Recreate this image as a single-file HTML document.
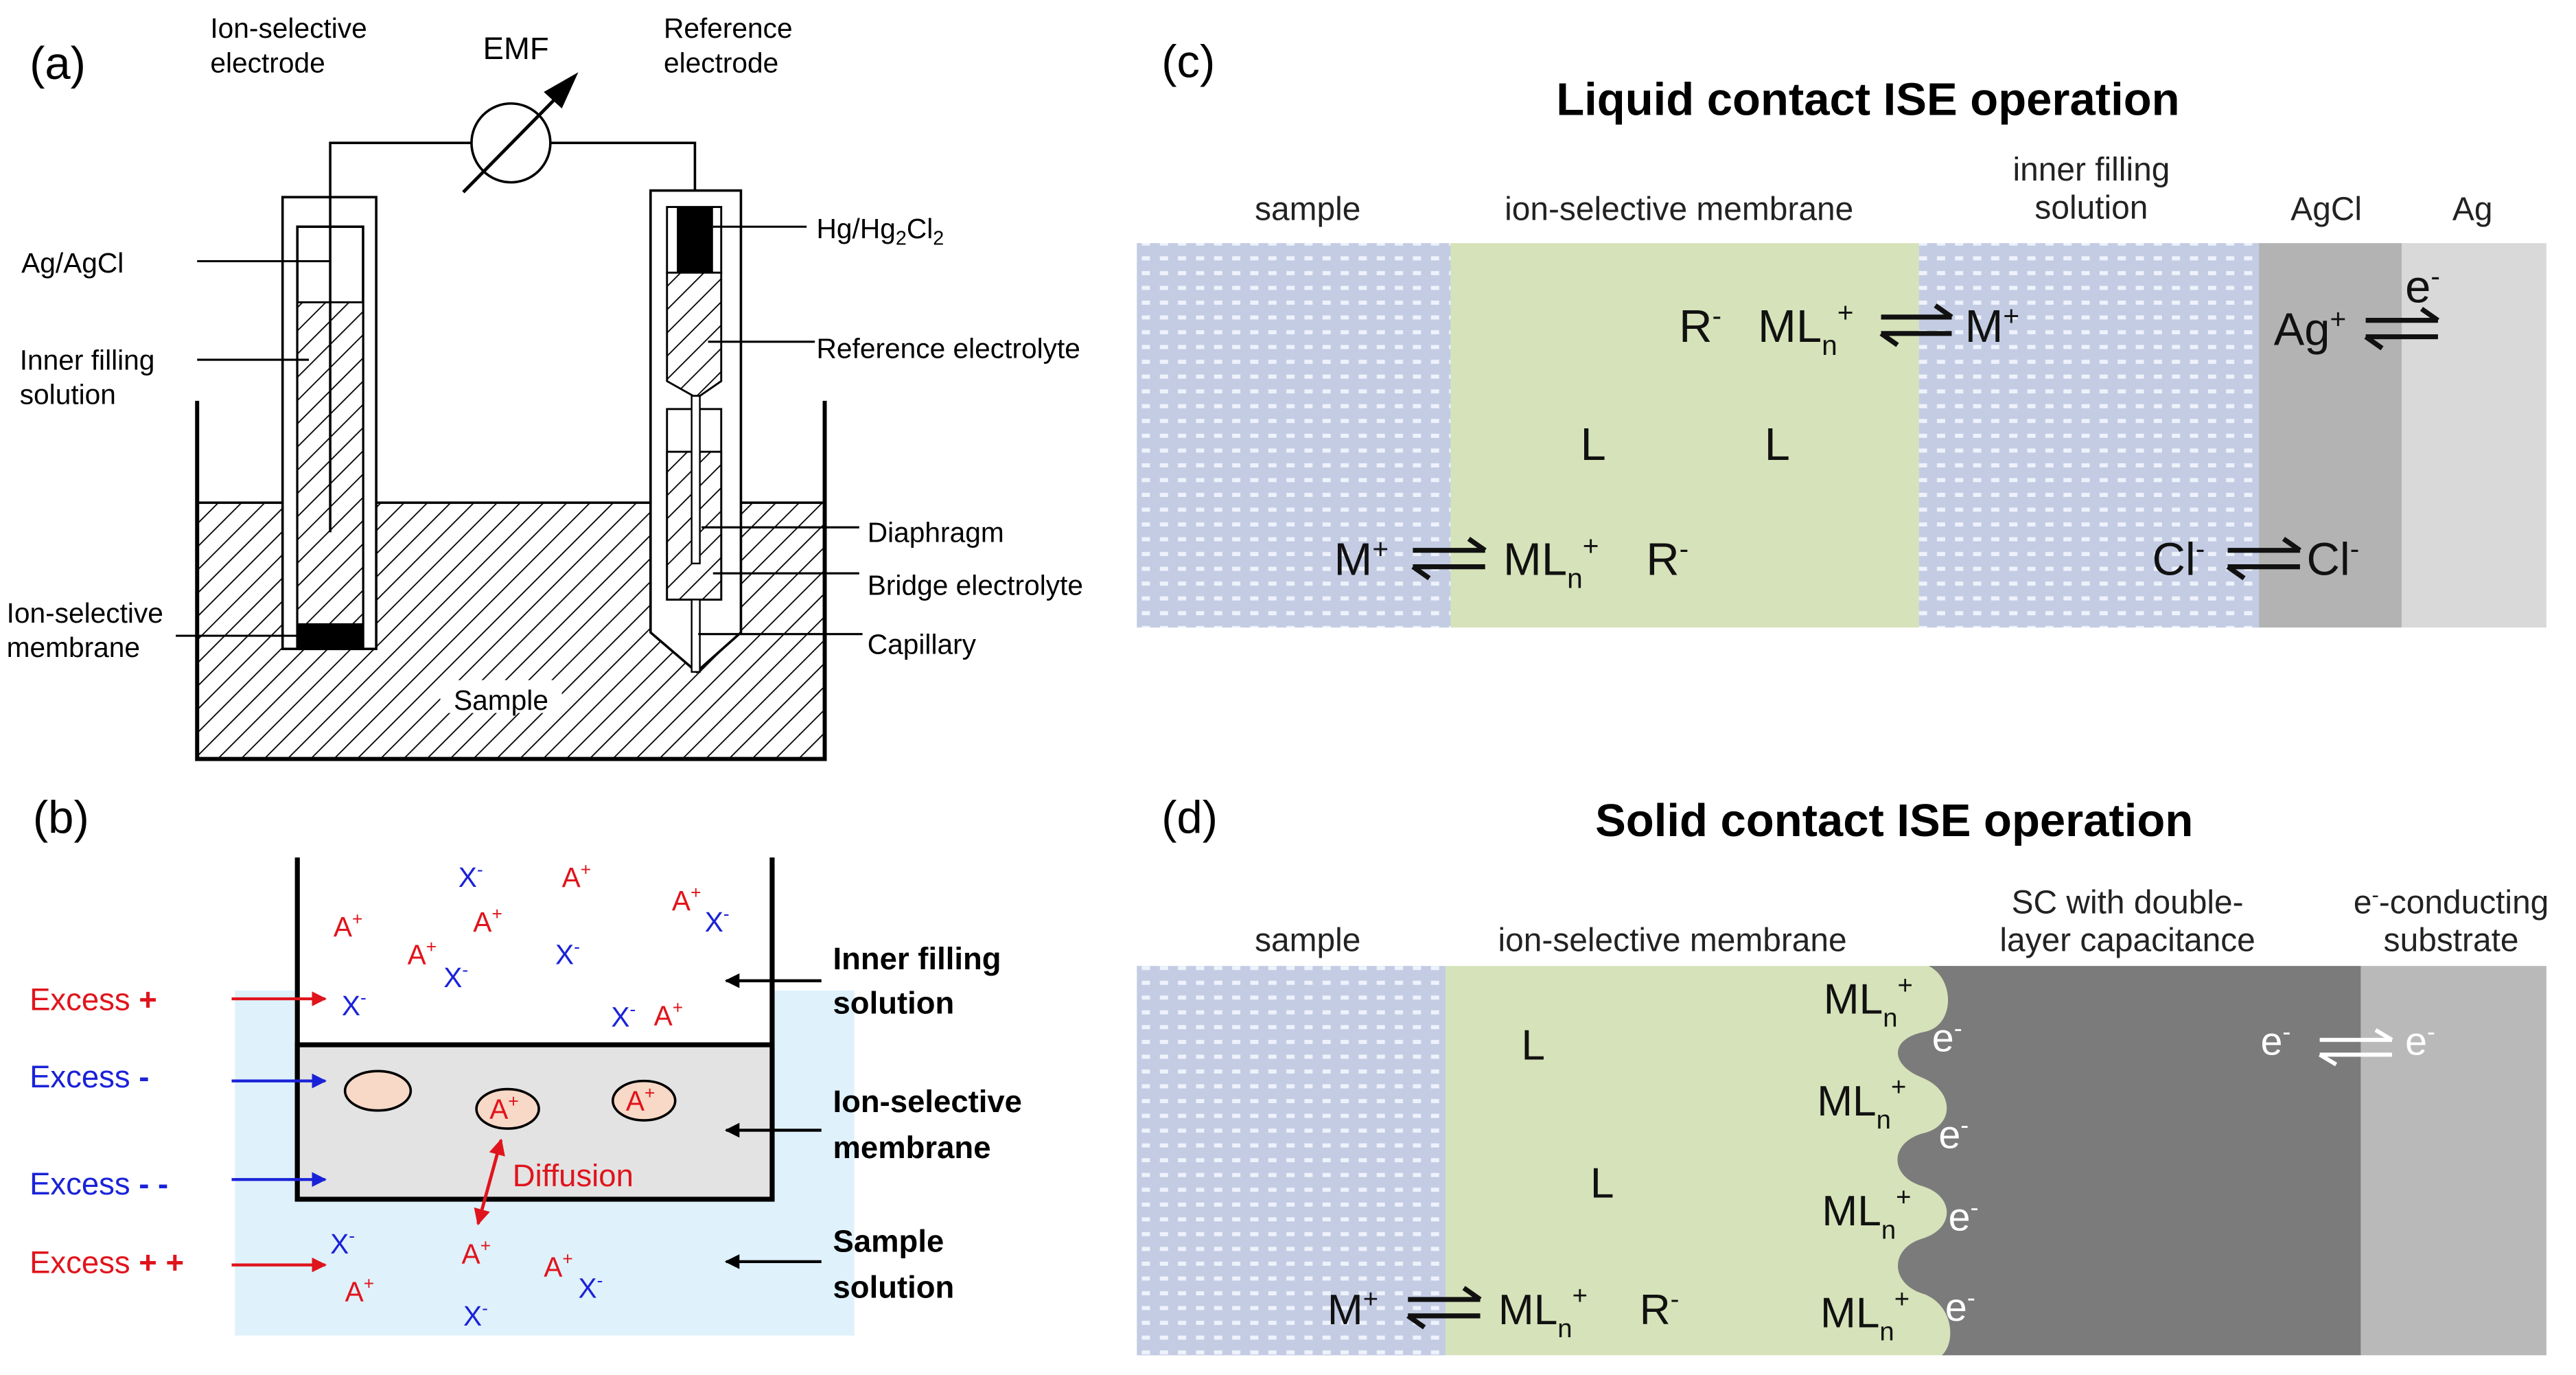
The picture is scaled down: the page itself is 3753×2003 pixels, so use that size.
<!DOCTYPE html>
<html><head><meta charset="utf-8"><style>html,body{margin:0;padding:0;background:#fff}svg{display:block}</style></head>
<body>
<svg xmlns="http://www.w3.org/2000/svg" width="3753" height="2003" viewBox="0 0 1568 837" preserveAspectRatio="none" font-family="Liberation Sans, Arial, sans-serif">
<defs>
<pattern id="hat" width="10" height="10" patternUnits="userSpaceOnUse" patternTransform="rotate(45)">
<rect width="10" height="10" fill="#fff"/><line x1="0" y1="0" x2="0" y2="10" stroke="#000" stroke-width="1.5"/></pattern>
<pattern id="dots" width="11" height="9" patternUnits="userSpaceOnUse">
<rect width="11" height="9" fill="#c3cce3"/><rect x="2" y="3" width="5" height="2.5" fill="#eef2fb"/></pattern>
<marker id="ab" viewBox="0 0 10 10" refX="9" refY="5" markerWidth="5" markerHeight="5" orient="auto-start-reverse"><path d="M0,0L10,5L0,10z" fill="#000"/></marker>
<marker id="ar" viewBox="0 0 10 10" refX="9" refY="5" markerWidth="5" markerHeight="5" orient="auto-start-reverse"><path d="M0,0L10,5L0,10z" fill="#e0141c"/></marker>
<marker id="abl" viewBox="0 0 10 10" refX="9" refY="5" markerWidth="5" markerHeight="5" orient="auto-start-reverse"><path d="M0,0L10,5L0,10z" fill="#1a22d8"/></marker>
</defs>
<rect width="1568" height="837" fill="#fff"/>

<!-- ===== Panel (a) ===== -->
<text x="18" y="48" font-size="28">(a)</text>
<text x="128" y="23" font-size="17">Ion-selective</text>
<text x="128" y="44" font-size="17">electrode</text>
<text x="294" y="36" font-size="19">EMF</text>
<text x="404" y="23" font-size="17">Reference</text>
<text x="404" y="44" font-size="17">electrode</text>
<rect x="120" y="306" width="382" height="156" fill="url(#hat)" stroke="#000" stroke-width="1.5"/>
<path d="M120,244V462H502V244" fill="none" stroke="#000" stroke-width="2.5"/>
<rect x="172" y="120" width="57" height="275" fill="#fff" stroke="#000" stroke-width="1.5"/>
<rect x="181" y="138" width="40" height="257" fill="#fff" stroke="#000" stroke-width="1.5"/>
<rect x="181" y="184" width="40" height="196" fill="url(#hat)" stroke="#000" stroke-width="1.2"/>
<rect x="181" y="380" width="40" height="15" fill="#000"/>
<path d="M201,324V87H287M335,87H423V117" fill="none" stroke="#000" stroke-width="1.5"/>
<circle cx="311" cy="87" r="24" fill="#fff" stroke="#000" stroke-width="1.5"/>
<line x1="282" y1="117" x2="345" y2="53" stroke="#000" stroke-width="2"/>
<path d="M352,44L331,56L342,66z" fill="#000"/>
<path d="M396,116H451V385L424,409L396,385Z" fill="#fff" stroke="#000" stroke-width="1.5"/>
<rect x="406" y="126" width="33" height="40" fill="#fff" stroke="#000" stroke-width="1.2"/>
<rect x="412" y="126" width="22" height="40" fill="#000"/>
<path d="M406,166H439V232L426,241H422L406,232Z" fill="url(#hat)" stroke="#000" stroke-width="1.2"/>
<rect x="406" y="249" width="33" height="116" fill="#fff" stroke="#000" stroke-width="1.2"/>
<rect x="406" y="275" width="33" height="90" fill="url(#hat)" stroke="#000" stroke-width="1.2"/>
<rect x="421" y="241" width="5" height="102" fill="#fff" stroke="#000" stroke-width="1"/>
<rect x="421" y="365" width="5" height="44" fill="#fff" stroke="#000" stroke-width="1"/>
<g stroke="#000" stroke-width="1.3">
<line x1="120" y1="159" x2="201" y2="159"/>
<line x1="120" y1="219" x2="188" y2="219"/>
<line x1="107" y1="387" x2="181" y2="387"/>
<line x1="434" y1="138" x2="491" y2="138"/>
<line x1="431" y1="208" x2="496" y2="208"/>
<line x1="427" y1="321" x2="523" y2="321"/>
<line x1="434" y1="349" x2="523" y2="349"/>
<line x1="425" y1="386" x2="525" y2="386"/>
</g>
<g font-size="17">
<text x="13" y="166">Ag/AgCl</text>
<text x="12" y="225">Inner filling</text>
<text x="12" y="246">solution</text>
<text x="4" y="379">Ion-selective</text>
<text x="4" y="400">membrane</text>
<text x="497" y="145">Hg/Hg<tspan font-size="12" dy="4">2</tspan><tspan dy="-4">Cl</tspan><tspan font-size="12" dy="4">2</tspan></text>
<text x="497" y="218">Reference electrolyte</text>
<text x="528" y="330">Diaphragm</text>
<text x="528" y="362">Bridge electrolyte</text>
<text x="528" y="398">Capillary</text>
</g>
<rect x="268" y="414" width="74" height="20" fill="#fff"/>
<text x="305" y="432" font-size="17" text-anchor="middle">Sample</text>

<!-- ===== Panel (b) ===== -->
<text x="20" y="507" font-size="28">(b)</text>
<rect x="143" y="603" width="377" height="210" fill="#dff1fb"/>
<rect x="181" y="540" width="289" height="96" fill="#fff"/>
<path d="M181,522V730H470V522" fill="none" stroke="#000" stroke-width="3"/>
<rect x="181" y="636" width="289" height="94" fill="#e3e3e3" stroke="#000" stroke-width="3"/>
<ellipse cx="230" cy="664" rx="20" ry="12" fill="#f8d8c6" stroke="#000" stroke-width="1.5"/>
<ellipse cx="309" cy="675" rx="19" ry="12" fill="#f8d8c6" stroke="#000" stroke-width="1.5"/>
<ellipse cx="392" cy="670" rx="19" ry="12" fill="#f8d8c6" stroke="#000" stroke-width="1.5"/>
<g font-size="17" fill="#e0141c">
<text x="298" y="681">A<tspan font-size="11" dy="-7">+</tspan></text>
<text x="381" y="676">A<tspan font-size="11" dy="-7">+</tspan></text>
</g>
<line x1="305" y1="694" x2="291" y2="745" stroke="#e0141c" stroke-width="2" marker-start="url(#ar)" marker-end="url(#ar)"/>
<text x="312" y="722" font-size="19" fill="#e0141c">Diffusion</text>
<g font-size="17" fill="#e0141c">
<text x="342" y="540">A<tspan font-size="11" dy="-7">+</tspan></text>
<text x="203" y="570">A<tspan font-size="11" dy="-7">+</tspan></text>
<text x="288" y="567">A<tspan font-size="11" dy="-7">+</tspan></text>
<text x="248" y="587">A<tspan font-size="11" dy="-7">+</tspan></text>
<text x="409" y="554">A<tspan font-size="11" dy="-7">+</tspan></text>
<text x="398" y="624">A<tspan font-size="11" dy="-7">+</tspan></text>
<text x="281" y="769">A<tspan font-size="11" dy="-7">+</tspan></text>
<text x="331" y="777">A<tspan font-size="11" dy="-7">+</tspan></text>
<text x="210" y="792">A<tspan font-size="11" dy="-7">+</tspan></text>
</g>
<g font-size="17" fill="#1a22d8">
<text x="279" y="540">X<tspan font-size="11" dy="-7">-</tspan></text>
<text x="270" y="601">X<tspan font-size="11" dy="-7">-</tspan></text>
<text x="338" y="587">X<tspan font-size="11" dy="-7">-</tspan></text>
<text x="208" y="618">X<tspan font-size="11" dy="-7">-</tspan></text>
<text x="429" y="567">X<tspan font-size="11" dy="-7">-</tspan></text>
<text x="372" y="625">X<tspan font-size="11" dy="-7">-</tspan></text>
<text x="201" y="763">X<tspan font-size="11" dy="-7">-</tspan></text>
<text x="352" y="790">X<tspan font-size="11" dy="-7">-</tspan></text>
<text x="282" y="807">X<tspan font-size="11" dy="-7">-</tspan></text>
</g>
<g font-size="19">
<text x="18" y="615" fill="#e0141c">Excess <tspan font-weight="bold">+</tspan></text>
<text x="18" y="662" fill="#1a22d8">Excess <tspan font-weight="bold">-</tspan></text>
<text x="18" y="727" fill="#1a22d8">Excess <tspan font-weight="bold">- -</tspan></text>
<text x="18" y="775" fill="#e0141c">Excess <tspan font-weight="bold">+ +</tspan></text>
</g>
<line x1="141" y1="608" x2="198" y2="608" stroke="#e0141c" stroke-width="1.8" marker-end="url(#ar)"/>
<line x1="141" y1="658" x2="198" y2="658" stroke="#1a22d8" stroke-width="1.8" marker-end="url(#abl)"/>
<line x1="141" y1="718" x2="198" y2="718" stroke="#1a22d8" stroke-width="1.8" marker-end="url(#abl)"/>
<line x1="141" y1="770" x2="198" y2="770" stroke="#e0141c" stroke-width="1.8" marker-end="url(#ar)"/>
<g stroke="#000" stroke-width="1.8">
<line x1="500" y1="597" x2="442" y2="597" marker-end="url(#ab)"/>
<line x1="500" y1="688" x2="442" y2="688" marker-end="url(#ab)"/>
<line x1="500" y1="768" x2="442" y2="768" marker-end="url(#ab)"/>
</g>
<g font-size="19" font-weight="bold">
<text x="507" y="590">Inner filling</text>
<text x="507" y="617">solution</text>
<text x="507" y="677">Ion-selective</text>
<text x="507" y="705">membrane</text>
<text x="507" y="762">Sample</text>
<text x="507" y="790">solution</text>
</g>

<!-- ===== Panel (c) ===== -->
<text x="707" y="47" font-size="28">(c)</text>
<text x="1137" y="70" font-size="28" font-weight="bold" text-anchor="middle">Liquid contact ISE operation</text>
<g font-size="20" fill="#222" text-anchor="middle">
<text x="796" y="134">sample</text>
<text x="1022" y="134">ion-selective membrane</text>
<text x="1273" y="110">inner filling</text>
<text x="1273" y="133">solution</text>
<text x="1416" y="134">AgCl</text>
<text x="1505" y="134">Ag</text>
</g>
<rect x="692" y="148" width="191" height="234" fill="url(#dots)"/>
<rect x="883" y="148" width="285" height="234" fill="#d6e2b9"/>
<rect x="1168" y="148" width="207" height="234" fill="url(#dots)"/>
<rect x="1375" y="148" width="87" height="234" fill="#b3b3b3"/>
<rect x="1462" y="148" width="88" height="234" fill="#d9d9d9"/>
<g font-size="28" fill="#111">
<text x="1022" y="208">R<tspan font-size="17" dy="-10">-</tspan></text>
<text x="1070" y="208">ML<tspan font-size="17" dy="8">n</tspan><tspan font-size="17" dy="-20">+</tspan></text>
<text x="1196" y="208">M<tspan font-size="17" dy="-10">+</tspan></text>
<text x="1384" y="210">Ag<tspan font-size="17" dy="-10">+</tspan></text>
<text x="1464" y="184">e<tspan font-size="17" dy="-10">-</tspan></text>
<text x="962" y="280">L</text>
<text x="1074" y="280">L</text>
<text x="812" y="350">M<tspan font-size="17" dy="-10">+</tspan></text>
<text x="915" y="350">ML<tspan font-size="17" dy="8">n</tspan><tspan font-size="17" dy="-20">+</tspan></text>
<text x="1002" y="350">R<tspan font-size="17" dy="-10">-</tspan></text>
<text x="1310" y="350">Cl<tspan font-size="17" dy="-10">-</tspan></text>
<text x="1404" y="350">Cl<tspan font-size="17" dy="-10">-</tspan></text>
</g>
<g stroke="#111" stroke-width="3" fill="none">
<path d="M1145,193H1188M1178,186L1188,193M1188,203H1145M1155,210L1145,203"/>
<path d="M1440,195H1484M1474,188L1484,195M1484,205H1440M1450,212L1440,205"/>
<path d="M860,335H904M894,328L904,335M904,345H860M870,352L860,345"/>
<path d="M1356,335H1400M1390,328L1400,335M1400,345H1356M1366,352L1356,345"/>
</g>

<!-- ===== Panel (d) ===== -->
<text x="707" y="507" font-size="28">(d)</text>
<text x="1153" y="509" font-size="28" font-weight="bold" text-anchor="middle">Solid contact ISE operation</text>
<g font-size="20" fill="#222" text-anchor="middle">
<text x="796" y="579">sample</text>
<text x="1018" y="579">ion-selective membrane</text>
<text x="1295" y="556">SC with double-</text>
<text x="1295" y="579">layer capacitance</text>
<text x="1492" y="556">e<tspan font-size="13" dy="-7">-</tspan><tspan dy="7">-conducting</tspan></text>
<text x="1492" y="579">substrate</text>
</g>
<rect x="692" y="588" width="188" height="237" fill="url(#dots)"/>
<rect x="880" y="588" width="310" height="237" fill="#d6e2b9"/>
<path d="M1174,588 C1190,596 1190,624 1172,628 C1150,632 1150,648 1170,656 C1190,664 1190,686 1170,690 C1150,696 1150,716 1170,722 C1190,728 1190,748 1170,754 C1150,760 1150,782 1172,788 C1190,796 1190,818 1182,825 H1437 V588 Z" fill="#7b7b7b"/>
<rect x="1437" y="588" width="113" height="237" fill="#b9b9b9"/>
<g font-size="26" fill="#111">
<text x="1110" y="617">ML<tspan font-size="16" dy="8">n</tspan><tspan font-size="16" dy="-20">+</tspan></text>
<text x="1106" y="679">ML<tspan font-size="16" dy="8">n</tspan><tspan font-size="16" dy="-20">+</tspan></text>
<text x="1109" y="746">ML<tspan font-size="16" dy="8">n</tspan><tspan font-size="16" dy="-20">+</tspan></text>
<text x="1108" y="808">ML<tspan font-size="16" dy="8">n</tspan><tspan font-size="16" dy="-20">+</tspan></text>
<text x="926" y="645">L</text>
<text x="968" y="729">L</text>
<text x="808" y="806">M<tspan font-size="16" dy="-10">+</tspan></text>
<text x="912" y="806">ML<tspan font-size="16" dy="8">n</tspan><tspan font-size="16" dy="-20">+</tspan></text>
<text x="998" y="806">R<tspan font-size="16" dy="-10">-</tspan></text>
</g>
<g font-size="24" fill="#fff">
<text x="1176" y="640">e<tspan font-size="15" dy="-9">-</tspan></text>
<text x="1180" y="699">e<tspan font-size="15" dy="-9">-</tspan></text>
<text x="1186" y="749">e<tspan font-size="15" dy="-9">-</tspan></text>
<text x="1184" y="804">e<tspan font-size="15" dy="-9">-</tspan></text>
<text x="1376" y="642">e<tspan font-size="15" dy="-9">-</tspan></text>
<text x="1464" y="642">e<tspan font-size="15" dy="-9">-</tspan></text>
</g>
<g stroke="#111" stroke-width="3" fill="none">
<path d="M857,791H901M891,784L901,791M901,801H857M867,808L857,801"/>
</g>
<g stroke="#fff" stroke-width="2.5" fill="none">
<path d="M1412,633H1456M1446,627L1456,633M1456,642H1412M1422,648L1412,642"/>
</g>
</svg>
</body></html>
